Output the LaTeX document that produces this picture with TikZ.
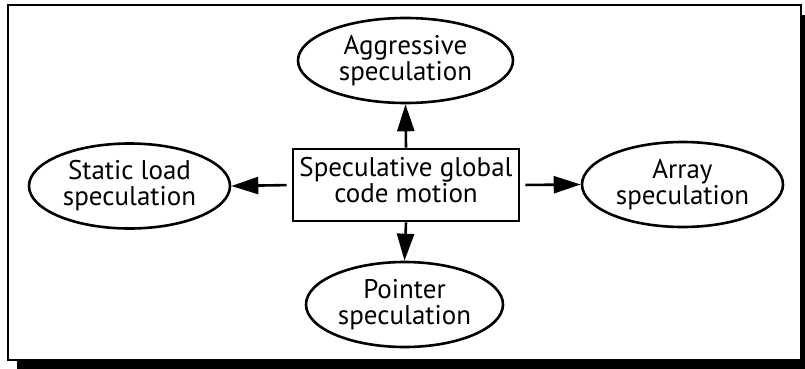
\documentclass[tikz,border=0pt]{standalone}
\usepackage{fontspec}
\setmainfont{PT Sans}
\usetikzlibrary{shapes.geometric,arrows.meta}
\begin{document}
\begin{tikzpicture}[x=1pt,y=-1pt,
  every node/.style={font=\fontsize{27}{26}\selectfont, align=center, inner sep=0pt},
  idea/.style={ellipse, draw, line width=2.6pt, minimum width=#1, minimum height=85pt},
  core/.style={rectangle, draw, line width=2.6pt, minimum width=226pt, minimum height=72pt, text depth=11pt},
  link/.style={line width=2.6pt, -{Triangle[length=27pt,width=17pt]}}
]
\useasboundingbox (0,0) rectangle (805,369);
% drop shadow behind the frame
\begin{scope}
  \clip (0,0) rectangle (805,369);
  \fill[black] (17,15) rectangle (820,380);
\end{scope}
% frame
\draw[line width=2.8pt, fill=white] (8,5) rectangle (801,360);

\node[core] (c) at (406,185) {Speculative global\\code motion};
\node[idea=215pt] (top) at (405.5,60.5) {Aggressive\\speculation};
\node[idea=201pt] (left) at (129.5,186) {Static load\\speculation};
\node[idea=201pt] (right) at (682.5,184.5) {Array\\speculation};
\node[idea=197pt] (bot) at (404.5,304.5) {Pointer\\speculation};

\draw[link] (c.north) -- (top.south);
\draw[link] (c.south) -- (bot.north);
\draw[link, shorten <=5pt] (c.west) -- (left.east);
\draw[link, shorten <=5pt] (c.east) -- (right.west);
\end{tikzpicture}
\end{document}
